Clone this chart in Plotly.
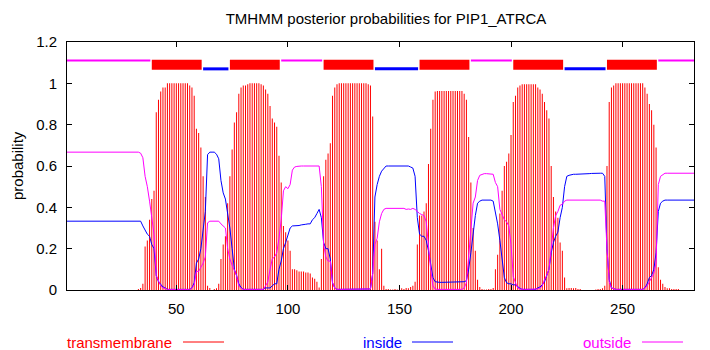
import plotly.graph_objects as go

# ---------------- data ----------------
residues = list(range(1, 283))

transmembrane = [
    0, 0, 0, 0, 0, 0, 0, 0, 0, 0,
    0, 0, 0, 0, 0, 0, 0, 0, 0, 0,
    0, 0, 0, 0, 0, 0, 0, 0, 0, 0,
    0, 0, 0.005, 0.01, 0.03, 0.21, 0.24, 0.34, 0.44, 0.48,
    0.86, 0.92, 0.96, 0.98, 0.98, 1.0, 1.0, 1.0, 1.0, 1.0,
    1.0, 1.0, 1.0, 1.0, 1.0, 0.99, 0.98, 0.94, 0.78, 0.76,
    0.69, 0.55, 0.45, 0.02, 0.01, 0.0, 0.005, 0.008, 0.03, 0.15,
    0.22, 0.26, 0.42, 0.55, 0.68, 0.81, 0.86, 0.95, 0.98, 0.99,
    0.99, 0.995, 1.0, 1.0, 1.0, 1.0, 1.0, 0.995, 0.99, 0.97,
    0.95, 0.89, 0.83, 0.81, 0.79, 0.65, 0.52, 0.31, 0.28, 0.24,
    0.19, 0.10, 0.10, 0.095, 0.09, 0.09, 0.09, 0.085, 0.085, 0.08,
    0.06, 0.055, 0.04, 0.012, 0.15, 0.55, 0.63, 0.66, 0.71, 0.94,
    0.98, 0.995, 1.0, 1.0, 1.0, 1.0, 1.0, 1.0, 1.0, 1.0,
    1.0, 1.0, 1.0, 1.0, 1.0, 0.995, 0.99, 0.84, 0.33, 0.24,
    0.1, 0.2, 0.02, 0.005, 0.005, 0.003, 0.003, 0.005, 0.003, 0.003,
    0.008, 0.005, 0.01, 0.008, 0.015, 0.02, 0.04, 0.22, 0.36, 0.36,
    0.38, 0.42, 0.61, 0.78, 0.92, 0.96, 0.963, 0.963, 0.963, 0.963,
    0.963, 0.963, 0.963, 0.963, 0.963, 0.963, 0.963, 0.963, 0.95, 0.92,
    0.74, 0.52, 0.3, 0.19, 0.05, 0.015, 0.005, 0.003, 0.003, 0.005,
    0.005, 0.01, 0.1, 0.17, 0.37, 0.48, 0.6, 0.62, 0.66, 0.75,
    0.91, 0.94, 0.98, 0.99, 0.995, 0.995, 0.995, 0.995, 0.995, 0.995,
    0.995, 0.98, 0.97, 0.95, 0.91, 0.87, 0.83, 0.6, 0.45, 0.38,
    0.35, 0.23, 0.19, 0.06, 0.008, 0.01, 0.01, 0.008, 0.01, 0.005,
    0.005, 0, 0, 0, 0, 0, 0, 0.003, 0.005, 0.005,
    0.008, 0.02, 0.6, 0.91, 0.98, 0.99, 1.0, 1.0, 1.0, 1.0,
    1.0, 1.0, 1.0, 1.0, 1.0, 1.0, 1.0, 1.0, 1.0, 0.98,
    0.95, 0.90, 0.87, 0.80, 0.69, 0.11, 0.05, 0.03, 0.015, 0.008,
    0.008, 0.005, 0.005, 0.005, 0.005, 0, 0, 0, 0, 0,
    0, 0,
]

inside = [
    0.333, 0.333, 0.333, 0.333, 0.333, 0.333, 0.333, 0.333, 0.333, 0.333,
    0.333, 0.333, 0.333, 0.333, 0.333, 0.333, 0.333, 0.333, 0.333, 0.333,
    0.333, 0.333, 0.333, 0.333, 0.333, 0.333, 0.333, 0.333, 0.333, 0.333,
    0.333, 0.333, 0.333, 0.333, 0.31, 0.29, 0.27, 0.26, 0.22, 0.2,
    0.07, 0.04, 0.025, 0.015, 0.01, 0.003, 0.003, 0.003, 0.003, 0.003,
    0.003, 0.003, 0.003, 0.003, 0.003, 0.003, 0.01, 0.035, 0.13, 0.15,
    0.2, 0.3, 0.38, 0.655, 0.667, 0.667, 0.667, 0.657, 0.635, 0.53,
    0.47, 0.44, 0.38, 0.3, 0.2, 0.1, 0.07, 0.03, 0.012, 0.003,
    0.003, 0.003, 0.003, 0.003, 0.003, 0.003, 0.003, 0.003, 0.003, 0.01,
    0.01, 0.01, 0.02, 0.03, 0.03, 0.1, 0.14, 0.2, 0.23, 0.27,
    0.30, 0.31, 0.31, 0.31, 0.312, 0.315, 0.315, 0.318, 0.32, 0.32,
    0.34, 0.35, 0.37, 0.39, 0.35, 0.23, 0.2, 0.2, 0.15, 0.035,
    0.01, 0.003, 0.003, 0.003, 0.003, 0.003, 0.003, 0.003, 0.003, 0.003,
    0.003, 0.003, 0.003, 0.003, 0.003, 0.003, 0.005, 0.08, 0.45, 0.51,
    0.55, 0.575, 0.59, 0.6, 0.6, 0.6, 0.6, 0.6, 0.6, 0.6,
    0.6, 0.6, 0.6, 0.6, 0.595, 0.59, 0.55, 0.35, 0.27, 0.26,
    0.26, 0.24, 0.19, 0.12, 0.06, 0.04, 0.037, 0.037, 0.037, 0.037,
    0.037, 0.037, 0.037, 0.037, 0.037, 0.037, 0.037, 0.037, 0.04, 0.045,
    0.1, 0.18, 0.28, 0.36, 0.42, 0.43, 0.435, 0.435, 0.435, 0.435,
    0.435, 0.43, 0.38, 0.32, 0.24, 0.14, 0.06, 0.035, 0.03, 0.03,
    0.025, 0.025, 0.015, 0.008, 0.003, 0.003, 0.003, 0.003, 0.003, 0.003,
    0.003, 0.01, 0.015, 0.025, 0.04, 0.07, 0.1, 0.18, 0.23, 0.26,
    0.28, 0.35, 0.4, 0.5, 0.55, 0.555, 0.558, 0.56, 0.56, 0.56,
    0.56, 0.562, 0.562, 0.563, 0.563, 0.564, 0.565, 0.565, 0.565, 0.565,
    0.565, 0.55, 0.2, 0.05, 0.01, 0.005, 0.003, 0.003, 0.003, 0.003,
    0.003, 0.003, 0.003, 0.003, 0.003, 0.003, 0.003, 0.003, 0.003, 0.01,
    0.03, 0.06, 0.07, 0.1, 0.18, 0.38, 0.42, 0.43, 0.435, 0.435,
    0.435, 0.435, 0.435, 0.435, 0.435, 0.435, 0.435, 0.435, 0.435, 0.435,
    0.435, 0.435,
]

outside = [
    0.667, 0.667, 0.667, 0.667, 0.667, 0.667, 0.667, 0.667, 0.667, 0.667,
    0.667, 0.667, 0.667, 0.667, 0.667, 0.667, 0.667, 0.667, 0.667, 0.667,
    0.667, 0.667, 0.667, 0.667, 0.667, 0.667, 0.667, 0.667, 0.667, 0.667,
    0.667, 0.667, 0.667, 0.662, 0.64, 0.55, 0.50, 0.43, 0.36, 0.27,
    0.07, 0.04, 0.02, 0.01, 0.008, 0.002, 0.002, 0.002, 0.002, 0.002,
    0.002, 0.002, 0.002, 0.002, 0.002, 0.002, 0.01, 0.025, 0.09, 0.09,
    0.11, 0.13, 0.16, 0.325, 0.333, 0.333, 0.333, 0.333, 0.333, 0.32,
    0.31, 0.30, 0.2, 0.15, 0.12, 0.09, 0.07, 0.02, 0.008, 0.003,
    0.003, 0.003, 0.003, 0.003, 0.003, 0.003, 0.003, 0.003, 0.003, 0.02,
    0.04, 0.1, 0.15, 0.16, 0.18, 0.25, 0.34, 0.48, 0.5, 0.49,
    0.51, 0.58, 0.595, 0.598, 0.6, 0.6, 0.6, 0.6, 0.6, 0.6,
    0.6, 0.6, 0.598, 0.6, 0.5, 0.22, 0.16, 0.14, 0.14, 0.035,
    0.01, 0.003, 0.003, 0.003, 0.003, 0.003, 0.003, 0.003, 0.003, 0.003,
    0.003, 0.003, 0.003, 0.003, 0.003, 0.003, 0.005, 0.08, 0.22, 0.25,
    0.33, 0.37, 0.39, 0.395, 0.395, 0.395, 0.395, 0.395, 0.395, 0.395,
    0.395, 0.395, 0.39, 0.392, 0.39, 0.395, 0.39, 0.38, 0.37, 0.365,
    0.36, 0.33, 0.2, 0.1, 0.02, 0.005, 0.003, 0.003, 0.003, 0.003,
    0.003, 0.003, 0.003, 0.003, 0.003, 0.003, 0.003, 0.003, 0.01, 0.035,
    0.16, 0.3, 0.42, 0.45, 0.53, 0.555, 0.56, 0.563, 0.563, 0.563,
    0.563, 0.56, 0.52, 0.5, 0.39, 0.36, 0.34, 0.33, 0.31, 0.22,
    0.065, 0.035, 0.01, 0.005, 0.003, 0.003, 0.003, 0.003, 0.003, 0.003,
    0.003, 0.005, 0.01, 0.02, 0.05, 0.07, 0.1, 0.2, 0.3, 0.36,
    0.38, 0.41, 0.415, 0.43, 0.435, 0.435, 0.435, 0.435, 0.435, 0.435,
    0.435, 0.435, 0.435, 0.435, 0.435, 0.435, 0.435, 0.435, 0.435, 0.435,
    0.43, 0.43, 0.2, 0.04, 0.01, 0.005, 0.003, 0.003, 0.003, 0.003,
    0.003, 0.003, 0.003, 0.003, 0.003, 0.003, 0.003, 0.003, 0.003, 0.01,
    0.02, 0.04, 0.06, 0.08, 0.13, 0.51, 0.55, 0.56, 0.565, 0.565,
    0.565, 0.565, 0.565, 0.565, 0.565, 0.565, 0.565, 0.565, 0.565, 0.565,
    0.565, 0.565,
]

# predicted topology segments (start, end)
outside_starts = [1, 97, 182, 266]
outside_ends = [38, 115, 200, 282]
tm_starts = [39, 74, 116, 159, 201, 243]
tm_ends = [61, 96, 138, 181, 223, 265]
inside_starts = [62, 139, 224]
inside_ends = [73, 158, 242]

x_ticks = [50, 100, 150, 200, 250]
y_ticks = [0, 0.2, 0.4, 0.6, 0.8, 1, 1.2]

title_text = "TMHMM posterior probabilities for PIP1_ATRCA"
legend_names = ["transmembrane", "inside", "outside"]

# ---------------- style ----------------
RED, BLUE, MAG = "#ff0000", "#0000ff", "#ff00ff"
IMPULSE_RED = "rgba(255,0,0,0.999)"  # <1 opacity -> plotly rounds bar edges (1px impulses)
FONT = "Liberation Sans, Arial, Helvetica, sans-serif"
W, H = 710, 350
ML, MR, MT, MB = 67, 16, 42, 60
PW, PH = W - ML - MR, H - MT - MB
YMAX = 1.2
PX_PER_Y = PH / YMAX
UNITS_PER_PX = (residues[-1] - residues[0]) / PW

LEVEL_OUT, LEVEL_TM, LEVEL_IN = 1.11, 1.09, 1.07
THICK_OUT, THICK_TM, THICK_IN = 2, 10, 3  # pixels
SEG_PAD = 0.35


def seg_bar(starts, ends, level, thick, color):
    return go.Bar(
        orientation="h",
        y=[level] * len(starts),
        base=starts,
        x=[e - s + SEG_PAD for s, e in zip(starts, ends)],
        width=thick / PX_PER_Y,
        marker=dict(color=color, line=dict(width=0)),
        showlegend=False,
        hoverinfo="skip",
    )


fig = go.Figure()
fig.add_trace(seg_bar(outside_starts, outside_ends, LEVEL_OUT, THICK_OUT, MAG))
fig.add_trace(seg_bar(tm_starts, tm_ends, LEVEL_TM, THICK_TM, RED))
fig.add_trace(seg_bar(inside_starts, inside_ends, LEVEL_IN, THICK_IN, BLUE))

fig.add_trace(go.Bar(
    x=residues, y=transmembrane, width=1.0 * UNITS_PER_PX,
    marker=dict(color=IMPULSE_RED, line=dict(width=0)),
    showlegend=False, hoverinfo="skip",
))
fig.add_trace(go.Scatter(
    x=residues, y=inside, mode="lines",
    line=dict(color=BLUE, width=1), showlegend=False, hoverinfo="skip",
))
fig.add_trace(go.Scatter(
    x=residues, y=outside, mode="lines",
    line=dict(color=MAG, width=1), showlegend=False, hoverinfo="skip",
))

axis_common = dict(
    showgrid=False, zeroline=False,
    showline=True, linecolor="black", linewidth=1, mirror="ticks",
    ticks="inside", ticklen=5, tickcolor="black", tickwidth=1,
    tickfont=dict(family=FONT, size=15, color="black"),
)

fig.update_xaxes(range=[residues[0], residues[-1]], tickvals=x_ticks,
                 ticktext=[str(v) for v in x_ticks], ticklabelstandoff=5,
                 **axis_common)
fig.update_yaxes(range=[0, YMAX], tickvals=y_ticks,
                 ticktext=[f"{v:g}" for v in y_ticks], ticklabelstandoff=6,
                 **axis_common)


def px_to_paper_x(px):
    return (px - ML) / PW


def px_to_paper_y(py):
    return (H - MB - py) / PH


annotations = [
    dict(text="probability", textangle=-90, xref="paper", yref="paper",
         x=px_to_paper_x(17), y=px_to_paper_y(166), showarrow=False,
         font=dict(family=FONT, size=15, color="black"),
         xanchor="center", yanchor="middle"),
]
shapes = []
legend_colors = [RED, BLUE, MAG]
legend_text_right = [174, 404, 633]
legend_line = [(183, 224), (412, 453), (642, 683)]
LEG_Y = 342
for name, col, tr, (l0, l1) in zip(legend_names, legend_colors, legend_text_right, legend_line):
    annotations.append(dict(
        text=name, xref="paper", yref="paper",
        x=px_to_paper_x(tr), y=px_to_paper_y(LEG_Y),
        xanchor="right", yanchor="middle", showarrow=False,
        font=dict(family=FONT, size=15, color=col),
    ))
    shapes.append(dict(
        type="line", xref="paper", yref="paper",
        x0=px_to_paper_x(l0), x1=px_to_paper_x(l1),
        y0=px_to_paper_y(LEG_Y), y1=px_to_paper_y(LEG_Y),
        line=dict(color=col, width=1),
    ))

fig.update_layout(
    width=W, height=H,
    margin=dict(l=ML, r=MR, t=MT, b=MB, pad=0),
    paper_bgcolor="white", plot_bgcolor="white",
    barmode="overlay",
    showlegend=False,
    hovermode=False,
    title=dict(text=title_text, xref="container", yref="container",
               x=386 / W, y=1 - 19 / H, xanchor="center", yanchor="middle",
               font=dict(family=FONT, size=15, color="black")),
    annotations=annotations,
    shapes=shapes,
)

fig.write_html("out.html", config={"displayModeBar": False})
